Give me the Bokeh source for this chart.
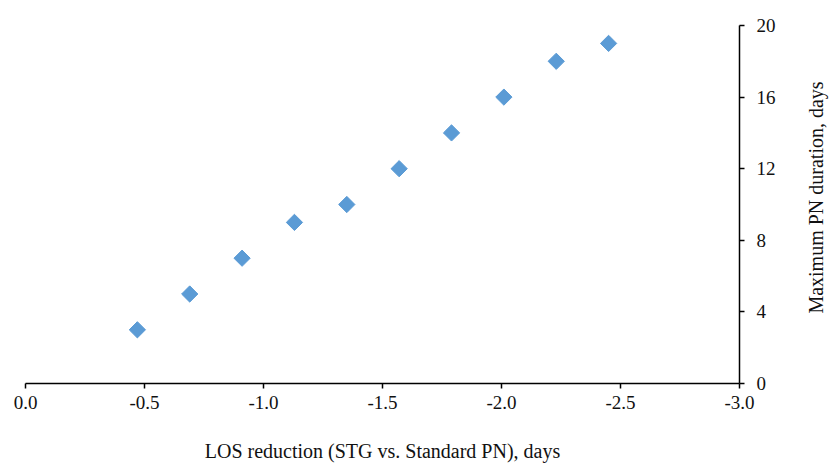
import math
from bokeh.plotting import figure
from bokeh.layouts import row
from bokeh.models import Range1d, LinearAxis, FixedTicker, Label
from bokeh.embed import file_html
from bokeh.resources import INLINE

los_reduction = [-0.47, -0.69, -0.91, -1.13, -1.35, -1.57, -1.79, -2.01, -2.23, -2.45]
max_pn_duration = [3, 5, 7, 9, 10, 12, 14, 16, 18, 19]
x_ticks = [0.0, -0.5, -1.0, -1.5, -2.0, -2.5, -3.0]
y_ticks = [0, 4, 8, 12, 16, 20]
x_title = "LOS reduction (STG vs. Standard PN), days"
y_title = "Maximum PN duration, days"

FONT = "Liberation Serif"

p = figure(width=790, height=465, output_backend="svg", toolbar_location=None,
           x_range=Range1d(0, -3), y_range=Range1d(0, 20),
           x_axis_location=None, y_axis_location=None,
           min_border_left=25, min_border_top=25, min_border_right=51, min_border_bottom=82)
p.outline_line_color = None
p.grid.visible = False

xaxis = LinearAxis(ticker=FixedTicker(ticks=x_ticks), axis_label=x_title)
xaxis.major_label_overrides = {t: f"{t:.1f}" for t in x_ticks}
xaxis.major_label_overrides[0.0] = "0.0"
yaxis = LinearAxis(ticker=FixedTicker(ticks=y_ticks))

for ax in (xaxis, yaxis):
    ax.axis_line_color = "black"
    ax.axis_line_width = 1.5
    ax.major_tick_line_color = "black"
    ax.major_tick_line_width = 1.5
    ax.major_tick_in = 0
    ax.major_tick_out = 5
    ax.minor_tick_line_color = None
    ax.major_label_text_font = FONT
    ax.major_label_text_font_size = "19px"
    ax.major_label_text_color = "#111111"

xaxis.axis_label_text_font = FONT
xaxis.axis_label_text_font_size = "20px"
xaxis.axis_label_text_font_style = "normal"
xaxis.axis_label_text_color = "#111111"
xaxis.major_label_standoff = 7
xaxis.axis_label_standoff = 28
yaxis.major_label_standoff = 12

p.add_layout(xaxis, "below")
p.add_layout(yaxis, "right")

p.scatter(los_reduction, max_pn_duration, marker="square", angle=math.pi / 4,
          size=11.5, fill_color="#5B9BD5", line_color="#5B9BD5")

# narrow side panel carrying the rotated y-axis title (reads bottom to top);
# its frame is aligned with the main plot's frame by the row layout
side = figure(width=40, height=465, output_backend="svg", toolbar_location=None,
              x_axis_location=None, y_axis_location=None, min_border=0)
side.outline_line_color = None
side.grid.visible = False
side.add_layout(Label(x=25, y=186, x_units="screen", y_units="screen", text=y_title,
                      angle=math.pi / 2,
                      text_font=FONT, text_font_size="20px", text_color="#111111",
                      text_align="center", text_baseline="alphabetic"))

layout = row(p, side)
open("out.html", "w").write(file_html(layout, INLINE))
